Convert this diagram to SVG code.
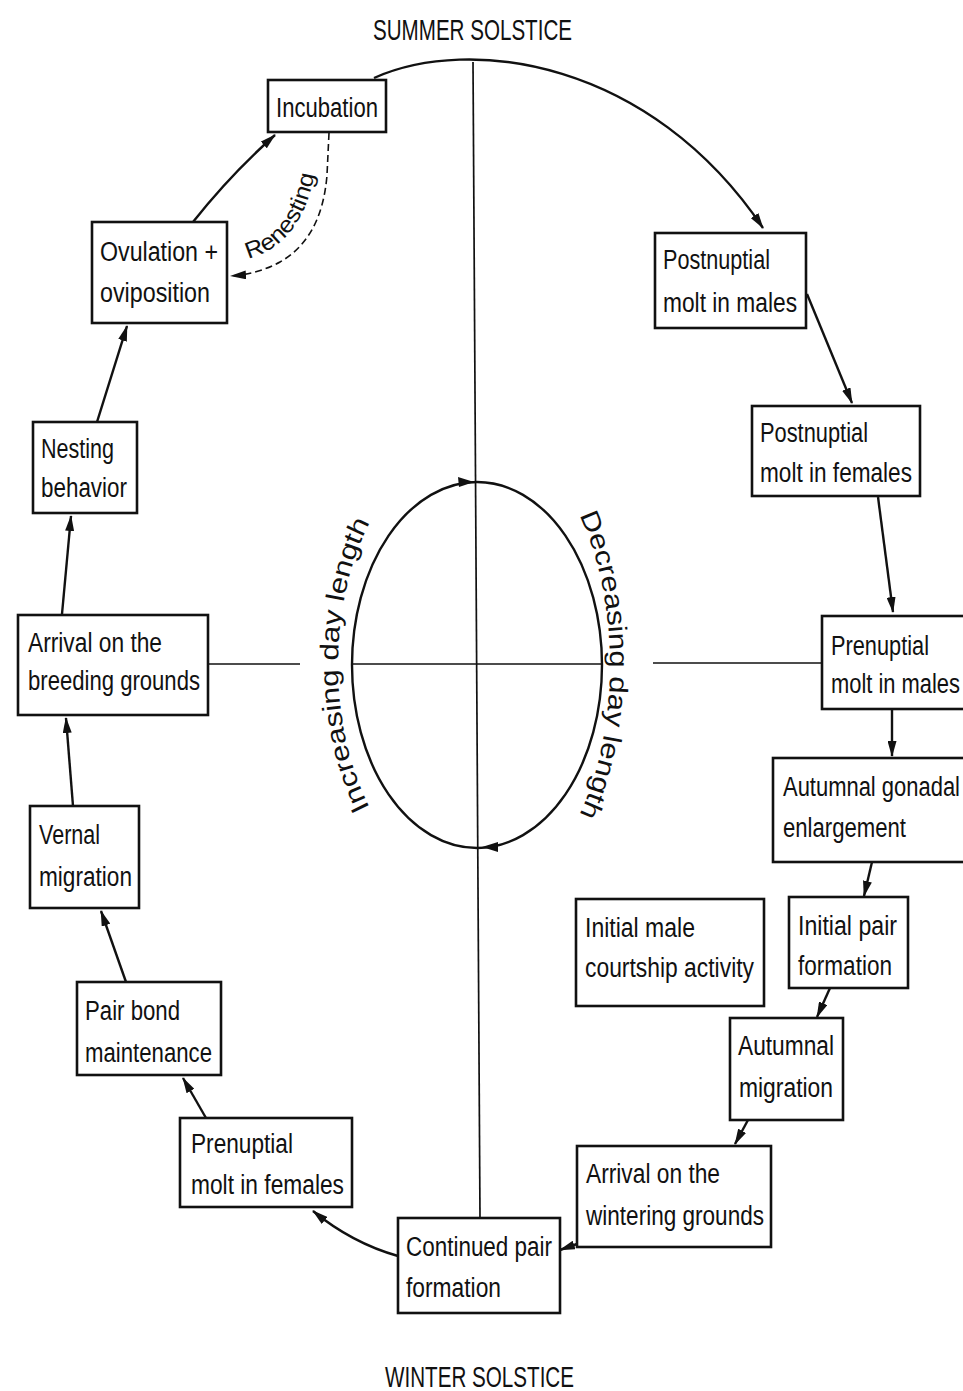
<svg xmlns="http://www.w3.org/2000/svg" width="963" height="1391" viewBox="0 0 963 1391">
<style>
.bg{fill:#fff}
.box{fill:#fff;stroke:#111;stroke-width:2.6}
.t{font-family:"Liberation Sans",Arial,sans-serif;font-size:27px;fill:#111}
.cap{font-family:"Liberation Sans",Arial,sans-serif;font-size:29px;fill:#111}
.et{font-family:"Liberation Sans",Arial,sans-serif;font-size:26px;fill:#111}
.c{fill:none;stroke:#111;stroke-width:2.4}
.thin{fill:none;stroke:#111;stroke-width:1.7}
.dash{fill:none;stroke:#111;stroke-width:1.6;stroke-dasharray:7 4}
.head{fill:#111}
</style>
<defs>
<marker id="ah" viewBox="0 0 16 9" refX="15" refY="4.5" markerWidth="16" markerHeight="9" markerUnits="userSpaceOnUse" orient="auto">
<path d="M0,0 L16,4.5 L0,9 Z" fill="#111"/>
</marker>
<path id="renestPath" d="M 246 259 Q 307 245 317 158"/>
<path id="lp" d="M 477 889 A 139 224 0 0 1 477 441"/>
<path id="rp" d="M 477 430 A 133 235 0 0 1 477 900"/>
</defs>
<rect class="bg" x="0" y="0" width="963" height="1391"/>

<g id="axes">
<line class="thin" x1="473" y1="62" x2="480" y2="1218"/>
<line class="thin" x1="208" y1="664" x2="300" y2="664"/>
<line class="thin" x1="352" y1="664" x2="603" y2="664"/>
<line class="thin" x1="653" y1="663" x2="822" y2="663"/>
<ellipse class="c" cx="477" cy="665" rx="125" ry="183"/>
<polygon class="head" points="474,482 458,477 459,487"/>
<polygon class="head" points="482,847 498,842 498,852"/>
</g>

<g id="labels">
<text class="cap" x="373" y="40" textLength="199" lengthAdjust="spacingAndGlyphs">SUMMER SOLSTICE</text>
<text class="cap" x="385" y="1387" textLength="189" lengthAdjust="spacingAndGlyphs">WINTER SOLSTICE</text>
<text class="et"><textPath href="#lp" startOffset="50%" text-anchor="middle" textLength="295" lengthAdjust="spacingAndGlyphs">Increasing day length</textPath></text>
<text class="et"><textPath href="#rp" startOffset="50%" text-anchor="middle" textLength="308" lengthAdjust="spacingAndGlyphs">Decreasing day length</textPath></text>
<text class="et" style="font-size:23px"><textPath href="#renestPath" startOffset="2" textLength="114" lengthAdjust="spacingAndGlyphs">Renesting</textPath></text>
</g>

<g id="connectors">
<path class="c" d="M 374 78 C 470 35, 650 60, 763 228" marker-end="url(#ah)"/>
<path class="c" d="M 807 294 L 852 403" marker-end="url(#ah)"/>
<path class="c" d="M 878 497 L 893 612" marker-end="url(#ah)"/>
<path class="c" d="M 892 710 L 892 756" marker-end="url(#ah)"/>
<path class="c" d="M 872 862 L 864 896" marker-end="url(#ah)"/>
<path class="c" d="M 830 988 L 817 1017" marker-end="url(#ah)"/>
<path class="c" d="M 748 1120 L 735 1144" marker-end="url(#ah)"/>
<path class="c" d="M 577 1244 L 560 1250" marker-end="url(#ah)"/>
<path class="c" d="M 398 1256 Q 352 1243 313 1211" marker-end="url(#ah)"/>
<path class="c" d="M 206 1118 L 183 1078" marker-end="url(#ah)"/>
<path class="c" d="M 126 982 L 101 911" marker-end="url(#ah)"/>
<path class="c" d="M 73 806 L 66 718" marker-end="url(#ah)"/>
<path class="c" d="M 62 614 L 71 516" marker-end="url(#ah)"/>
<path class="c" d="M 97 422 L 127 326" marker-end="url(#ah)"/>
<path class="c" d="M 193 222 Q 230 175 275 135" marker-end="url(#ah)"/>
<path class="dash" d="M 329 133 L 327 175 Q 322 238 280 262 Q 258 274 231 276" marker-end="url(#ah)"/>
</g>

<g id="incubation">
<rect class="box" x="268" y="80" width="118" height="52"/>
<text class="t" x="276" y="117" textLength="102" lengthAdjust="spacingAndGlyphs">Incubation</text>
</g>
<g id="ovulation">
<rect class="box" x="92" y="222" width="135" height="101"/>
<text class="t" x="100" y="261" textLength="118" lengthAdjust="spacingAndGlyphs">Ovulation +</text>
<text class="t" x="100" y="302" textLength="110" lengthAdjust="spacingAndGlyphs">oviposition</text>
</g>
<g id="nesting">
<rect class="box" x="33" y="422" width="104" height="91"/>
<text class="t" x="41" y="458" textLength="73" lengthAdjust="spacingAndGlyphs">Nesting</text>
<text class="t" x="41" y="497" textLength="86" lengthAdjust="spacingAndGlyphs">behavior</text>
</g>
<g id="arrival-breeding">
<rect class="box" x="18" y="615" width="190" height="100"/>
<text class="t" x="28" y="652" textLength="134" lengthAdjust="spacingAndGlyphs">Arrival on the</text>
<text class="t" x="28" y="690" textLength="172" lengthAdjust="spacingAndGlyphs">breeding grounds</text>
</g>
<g id="vernal">
<rect class="box" x="30" y="806" width="109" height="102"/>
<text class="t" x="39" y="844" textLength="61" lengthAdjust="spacingAndGlyphs">Vernal</text>
<text class="t" x="39" y="886" textLength="93" lengthAdjust="spacingAndGlyphs">migration</text>
</g>
<g id="pair-bond">
<rect class="box" x="77" y="982" width="144" height="93"/>
<text class="t" x="85" y="1020" textLength="95" lengthAdjust="spacingAndGlyphs">Pair bond</text>
<text class="t" x="85" y="1062" textLength="127" lengthAdjust="spacingAndGlyphs">maintenance</text>
</g>
<g id="prenuptial-females">
<rect class="box" x="180" y="1118" width="172" height="89"/>
<text class="t" x="191" y="1153" textLength="102" lengthAdjust="spacingAndGlyphs">Prenuptial</text>
<text class="t" x="191" y="1194" textLength="153" lengthAdjust="spacingAndGlyphs">molt in females</text>
</g>
<g id="continued-pair">
<rect class="box" x="398" y="1218" width="162" height="95"/>
<text class="t" x="406" y="1256" textLength="146" lengthAdjust="spacingAndGlyphs">Continued pair</text>
<text class="t" x="406" y="1297" textLength="95" lengthAdjust="spacingAndGlyphs">formation</text>
</g>
<g id="arrival-wintering">
<rect class="box" x="577" y="1146" width="194" height="101"/>
<text class="t" x="586" y="1183" textLength="134" lengthAdjust="spacingAndGlyphs">Arrival on the</text>
<text class="t" x="586" y="1225" textLength="178" lengthAdjust="spacingAndGlyphs">wintering grounds</text>
</g>
<g id="autumnal-migration">
<rect class="box" x="730" y="1018" width="113" height="102"/>
<text class="t" x="738" y="1055" textLength="96" lengthAdjust="spacingAndGlyphs">Autumnal</text>
<text class="t" x="739" y="1097" textLength="94" lengthAdjust="spacingAndGlyphs">migration</text>
</g>
<g id="initial-male-courtship">
<rect class="box" x="576" y="899" width="188" height="107"/>
<text class="t" x="585" y="937" textLength="110" lengthAdjust="spacingAndGlyphs">Initial male</text>
<text class="t" x="585" y="977" textLength="169" lengthAdjust="spacingAndGlyphs">courtship activity</text>
</g>
<g id="initial-pair">
<rect class="box" x="789" y="897" width="119" height="91"/>
<text class="t" x="798" y="935" textLength="99" lengthAdjust="spacingAndGlyphs">Initial pair</text>
<text class="t" x="798" y="975" textLength="94" lengthAdjust="spacingAndGlyphs">formation</text>
</g>
<g id="autumnal-gonadal">
<rect class="box" x="773" y="758" width="220" height="104"/>
<text class="t" x="783" y="796" textLength="177" lengthAdjust="spacingAndGlyphs">Autumnal gonadal</text>
<text class="t" x="783" y="837" textLength="123" lengthAdjust="spacingAndGlyphs">enlargement</text>
</g>
<g id="prenuptial-males">
<rect class="box" x="822" y="616" width="180" height="93"/>
<text class="t" x="831" y="655" textLength="98" lengthAdjust="spacingAndGlyphs">Prenuptial</text>
<text class="t" x="831" y="693" textLength="129" lengthAdjust="spacingAndGlyphs">molt in males</text>
</g>
<g id="postnuptial-females">
<rect class="box" x="752" y="406" width="168" height="90"/>
<text class="t" x="760" y="442" textLength="108" lengthAdjust="spacingAndGlyphs">Postnuptial</text>
<text class="t" x="760" y="482" textLength="152" lengthAdjust="spacingAndGlyphs">molt in females</text>
</g>
<g id="postnuptial-males">
<rect class="box" x="655" y="233" width="151" height="95"/>
<text class="t" x="663" y="269" textLength="107" lengthAdjust="spacingAndGlyphs">Postnuptial</text>
<text class="t" x="663" y="312" textLength="134" lengthAdjust="spacingAndGlyphs">molt in males</text>
</g>
</svg>
